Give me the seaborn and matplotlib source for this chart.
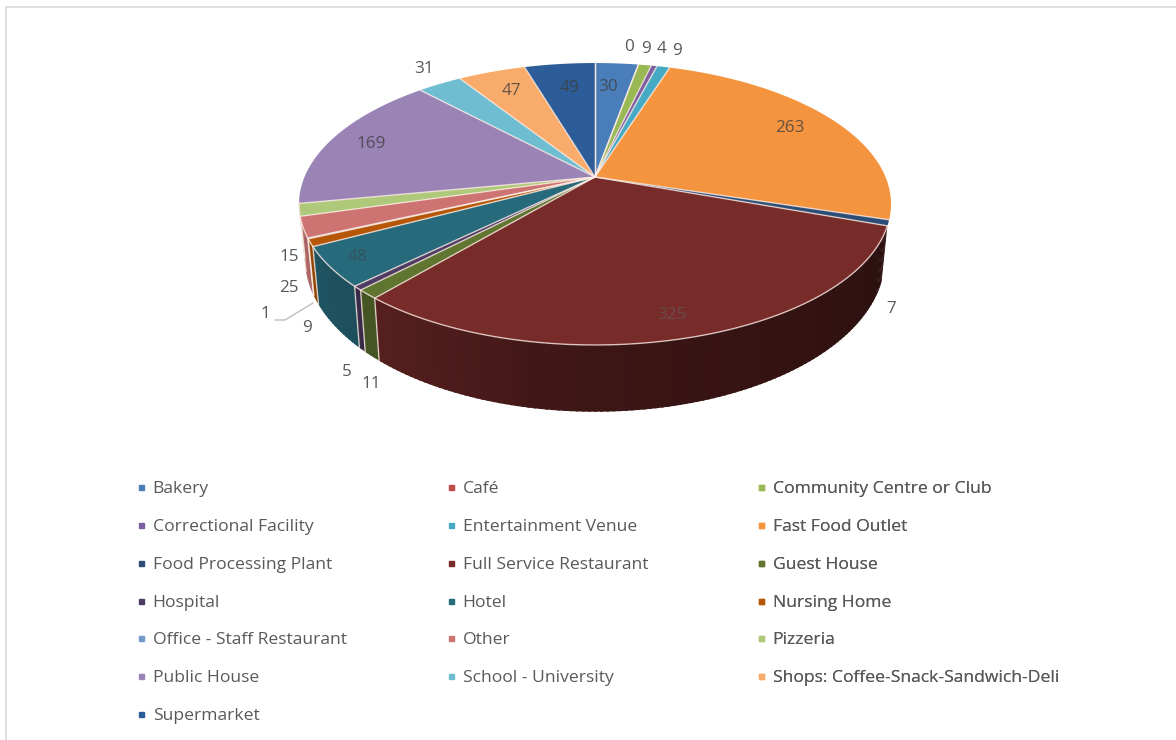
import numpy as np
import matplotlib
matplotlib.use("Agg")
import matplotlib.pyplot as plt
from matplotlib.lines import Line2D
import seaborn as sns

# Premises inspected, by business type
categories = [
    "Bakery", "Café", "Community Centre or Club",
    "Correctional Facility", "Entertainment Venue", "Fast Food Outlet",
    "Food Processing Plant", "Full Service Restaurant", "Guest House",
    "Hospital", "Hotel", "Nursing Home",
    "Office - Staff Restaurant", "Other", "Pizzeria",
    "Public House", "School - University", "Shops: Coffee-Snack-Sandwich-Deli",
    "Supermarket",
]
counts = [30, 0, 9, 4, 9, 263, 7, 325, 11, 5, 48, 9, 1, 25, 15, 169, 31, 47, 49]
slice_colors = [
    "#4a7ebb", "#be4b48", "#98b954", "#7d60a0", "#46aac4", "#f5943f",
    "#2c4d75", "#772c2a", "#5f7530", "#4d3b62", "#276a7c", "#b65708",
    "#729aca", "#cd7371", "#afc97a", "#9a84b6", "#6fbdd1", "#f9ab6b",
    "#2c5d98",
]

# Where each value label sits on the canvas (pixels)
label_xy = {
    0: (608, 87), 1: (629, 47), 2: (646, 49), 3: (662, 49), 4: (677, 51),
    5: (790, 128), 6: (891, 309), 7: (672, 315), 8: (371, 384), 9: (347, 372),
    10: (357, 257), 11: (307, 328), 12: (265, 314), 13: (289, 288),
    14: (289, 257), 15: (371, 144), 16: (424, 69), 17: (511, 91), 18: (569, 88),
}
inside = {0, 5, 15, 17, 18}

sns.set_theme(style="white")
plt.rcParams["font.family"] = ["Open Sans", "DejaVu Sans"]
palette = sns.color_palette(slice_colors)

W, H = 1176, 740
fig = plt.figure(figsize=(W / 100, H / 100), dpi=100, facecolor="white")
ax = fig.add_axes([6 / W, 0, 1 - 6 / W, 1 - 7 / H])
ax.set_xlim(6, W)
ax.set_ylim(H, 7)
ax.set_xticks([])
ax.set_yticks([])
sns.despine(ax=ax, top=False, left=False, right=True, bottom=True)
for side in ("top", "left"):
    ax.spines[side].set_color("#d9d9d9")
    ax.spines[side].set_linewidth(1.2)

# Perspective view of a circular disc
CX, CY = 595, 177
RX, RY, TILT = 290.5, 135.8, 0.1916
BASE_SX, BASE_SY, BASE_DY = 0.98, 1.09, 51.6


def project(theta, sx=1.0, sy=1.0, dy=0.0):
    rad = np.radians(theta)
    u, v = np.sin(rad), -np.cos(rad)
    w = 1 - TILT * v
    return CX + RX * sx * u / w, CY + RY * sy * v / w + dy


def wall_shade(theta):
    return np.interp(theta, [110, 180, 220, 260], [0.36, 0.5, 0.72, 0.86])


edges = np.concatenate([[0], np.cumsum(counts)]) / np.sum(counts) * 360
edge_color = (1, 0.93, 0.90, 0.75)
wall_from, wall_to = edges[7], 259.5

# Rim of the disc: overlapping strips, each a little lighter towards the left
for i, color in enumerate(palette):
    start, stop = max(edges[i], wall_from), min(edges[i + 1], wall_to)
    if stop <= start:
        continue
    steps = np.append(np.arange(start, stop, 1.0), stop)
    for a, b in zip(steps[:-1], steps[1:]):
        t = np.array([a, min(b + 0.5, stop)])
        xt, yt = project(t)
        xb, yb = project(t, BASE_SX, BASE_SY, BASE_DY)
        shade = tuple(np.array(color) * wall_shade((a + b) / 2))
        ax.fill(np.r_[xt, xb[::-1]], np.r_[yt, yb[::-1]], facecolor=shade, lw=0, zorder=2)
    if edges[i] > wall_from:
        xe, ye = project(np.array([edges[i]]))
        xf, yf = project(np.array([edges[i]]), BASE_SX, BASE_SY, BASE_DY)
        ax.plot([xe[0], xf[0]], [ye[0], yf[0]], color=edge_color, lw=1.0, zorder=3)

# Top face, with light seams between the slices and along the near rim
for i, color in enumerate(palette):
    if counts[i] == 0:
        continue
    t = np.linspace(edges[i], edges[i + 1], max(int(edges[i + 1] - edges[i]) * 2, 3))
    x, y = project(t)
    ax.fill(np.r_[CX, x], np.r_[CY, y], facecolor=color, lw=0, zorder=4)
for angle in edges:
    x, y = project(np.array([angle]))
    ax.plot([CX, x[0]], [CY, y[0]], color=edge_color, lw=1.0, zorder=5)
front = np.linspace(wall_from, wall_to, 200)
ax.plot(*project(front), color=edge_color, lw=1.0, zorder=5)

# Value labels
for i, value in enumerate(counts):
    x, y = label_xy[i]
    if i == 7:
        style = dict(color="#6a4a4a")
    elif i == 10:
        style = dict(color="#2f5560")
    elif i in inside:
        style = dict(color="#404040", alpha=0.8)
    else:
        style = dict(color="#595959")
    ax.text(x, y, str(value), ha="center", va="center", fontsize=12.3, zorder=6, **style)

ax.plot([275, 285, 313], [320, 320, 303], color="#bfbfbf", lw=1, zorder=5)

# Three-column legend, read row by row
for col, left in enumerate((133.5, 443.5, 753.5)):
    handles = [
        Line2D([], [], ls="", marker="s", ms=3.6, color=palette[i], label=categories[i])
        for i in range(col, len(categories), 3)
    ]
    leg = ax.legend(
        handles=handles, loc="upper left", bbox_to_anchor=(left, 481),
        bbox_transform=ax.transData, frameon=False, borderpad=0, borderaxespad=0,
        fontsize=12.6, labelspacing=1.232, handlelength=0.9, handletextpad=0.2,
        labelcolor="#595959",
    )
    ax.add_artist(leg)

fig.savefig("out.png", dpi=100, facecolor="white")
